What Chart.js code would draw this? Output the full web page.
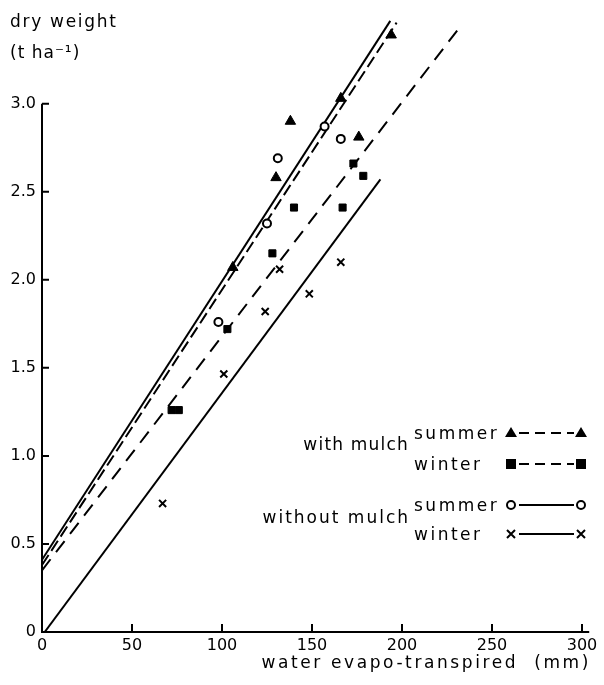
<!DOCTYPE html>
<html>
<head>
<meta charset="utf-8">
<script src="https://cdn.jsdelivr.net/npm/chart.js@4"></script>
<style>
html,body{margin:0;padding:0;background:#fff;}
#wrap{width:604px;height:685px;position:relative;}
</style>
</head>
<body>
<div id="wrap"><canvas id="c" width="604" height="685"></canvas></div>
<script>
// ---- data ----
const xTicks = [0, 50, 100, 150, 200, 250, 300];
const yTicks = [0, 0.5, 1.0, 1.5, 2.0, 2.5, 3.0];

const summerMulchX = [106, 130, 138, 166, 176, 194];
const summerMulchY = [2.07, 2.58, 2.90, 3.03, 2.81, 3.39];

const winterMulchX = [72, 76, 103, 128, 140, 167, 173, 178.5];
const winterMulchY = [1.26, 1.26, 1.72, 2.15, 2.41, 2.41, 2.66, 2.59];

const summerNoX = [98, 125, 131, 157, 166];
const summerNoY = [1.76, 2.32, 2.69, 2.87, 2.80];

const winterNoX = [67, 101, 124, 132, 148.5, 166];
const winterNoY = [0.73, 1.465, 1.82, 2.06, 1.92, 2.10];

// fitted lines: [start, end] as [x, y]
const summerMulchLine = [[0, 0.38], [197, 3.46]];
const winterMulchLine = [[0, 0.35], [231, 3.42]];
const summerNoLine = [[0, 0.41], [193.5, 3.47]];
const winterNoLine = [[1.5, 0], [188, 2.57]];

const FONT = '"DejaVu Sans", sans-serif';

function pts(xs, ys) { return xs.map((x, i) => ({x: x, y: ys[i]})); }
function seg(l) { return l.map(p => ({x: p[0], y: p[1]})); }

const lineBase = {type: 'line', showLine: true, pointRadius: 0, borderColor: '#000', borderWidth: 2, fill: false, order: 2};
const ptBase = {type: 'scatter', showLine: false, borderColor: '#000', order: 1};

const datasets = [
  Object.assign({}, lineBase, {label: 'l1', data: seg(summerNoLine)}),
  Object.assign({}, lineBase, {label: 'l2', data: seg(summerMulchLine), borderDash: [12, 5]}),
  Object.assign({}, lineBase, {label: 'l3', data: seg(winterMulchLine), borderDash: [14, 9]}),
  Object.assign({}, lineBase, {label: 'l4', data: seg(winterNoLine)}),
  Object.assign({}, ptBase, {label: 'summer mulch', data: pts(summerMulchX, summerMulchY), pointStyle: 'triangle', pointRadius: 6, backgroundColor: '#000', borderWidth: 1}),
  Object.assign({}, ptBase, {label: 'winter mulch', data: pts(winterMulchX, winterMulchY), pointStyle: 'rect', pointRadius: 5, backgroundColor: '#000', borderWidth: 1}),
  Object.assign({}, ptBase, {label: 'summer no', data: pts(summerNoX, summerNoY), pointStyle: 'circle', pointRadius: 4, backgroundColor: '#fff', borderWidth: 2}),
  Object.assign({}, ptBase, {label: 'winter no', data: pts(winterNoX, winterNoY), pointStyle: 'crossRot', pointRadius: 5, backgroundColor: '#000', borderWidth: 2})
];

function drawSym(ctx, type, x, y) {
  ctx.save();
  ctx.fillStyle = '#000'; ctx.strokeStyle = '#000'; ctx.setLineDash([]);
  if (type === 'tri') {
    ctx.beginPath(); ctx.moveTo(x, y - 6); ctx.lineTo(x + 6, y + 4); ctx.lineTo(x - 6, y + 4); ctx.closePath(); ctx.fill();
  } else if (type === 'sq') {
    ctx.fillRect(x - 5, y - 5, 10, 10);
  } else if (type === 'circ') {
    ctx.lineWidth = 2; ctx.beginPath(); ctx.arc(x, y, 4, 0, Math.PI * 2); ctx.fillStyle = '#fff'; ctx.fill(); ctx.stroke();
  } else if (type === 'x') {
    ctx.lineWidth = 2; ctx.beginPath();
    ctx.moveTo(x - 4, y - 4); ctx.lineTo(x + 4, y + 4); ctx.moveTo(x + 4, y - 4); ctx.lineTo(x - 4, y + 4); ctx.stroke();
  }
  ctx.restore();
}

const decor = {
  id: 'decor',
  afterDraw(chart) {
    const ctx = chart.ctx, xs = chart.scales.x, ys = chart.scales.y;
    const x0 = xs.getPixelForValue(0), y0 = ys.getPixelForValue(0);
    ctx.save();
    ctx.strokeStyle = '#000'; ctx.lineWidth = 2; ctx.setLineDash([]);
    // axes
    ctx.beginPath();
    ctx.moveTo(x0, ys.getPixelForValue(3.0)); ctx.lineTo(x0, y0); ctx.lineTo(xs.getPixelForValue(304), y0);
    ctx.stroke();
    ctx.beginPath();
    yTicks.forEach(v => { if (v > 0) { const p = ys.getPixelForValue(v); ctx.moveTo(x0, p); ctx.lineTo(x0 + 7, p); } });
    xTicks.forEach(v => { if (v > 0) { const p = xs.getPixelForValue(v); ctx.moveTo(p, y0); ctx.lineTo(p, y0 - 8); } });
    ctx.stroke();

    // axis titles
    ctx.fillStyle = '#000';
    ctx.textBaseline = 'alphabetic';
    ctx.font = '17px ' + FONT;
    ctx.letterSpacing = '1.7px';
    ctx.textAlign = 'left';
    ctx.fillText('dry weight', 10, 27);
    ctx.letterSpacing = '1px';
    ctx.fillText('(t ha\u207B\u00B9)', 10, 58);
    ctx.textAlign = 'right';
    ctx.font = '17px ' + FONT;
    ctx.letterSpacing = '2.6px';
    ctx.fillText('water evapo-transpired  (mm)', 591, 668);

    // legend
    ctx.font = '17px ' + FONT;
    ctx.letterSpacing = '1.2px';
    ctx.textAlign = 'right';
    ctx.fillText('with mulch', 409, 450);
    ctx.letterSpacing = '2px';
    ctx.fillText('without mulch', 410, 523);
    ctx.textAlign = 'left';
    ctx.letterSpacing = '2.5px';
    ctx.fillText('summer', 414, 439);
    ctx.fillText('winter', 414, 470);
    ctx.fillText('summer', 414, 511);
    ctx.fillText('winter', 414, 540);
    ctx.letterSpacing = '0px';
    const rows = [
      {y: 433, sym: 'tri', dash: [10, 6]},
      {y: 464, sym: 'sq', dash: [10, 6]},
      {y: 505, sym: 'circ', dash: []},
      {y: 534, sym: 'x', dash: []}
    ];
    rows.forEach(r => {
      ctx.lineWidth = 2; ctx.setLineDash(r.dash);
      ctx.beginPath(); ctx.moveTo(519, r.y); ctx.lineTo(574, r.y); ctx.stroke();
      drawSym(ctx, r.sym, 511, r.y);
      drawSym(ctx, r.sym, 581, r.y);
    });
    ctx.restore();
  }
};

new Chart(document.getElementById('c'), {
  type: 'scatter',
  data: {datasets: datasets},
  options: {
    responsive: false,
    animation: false,
    devicePixelRatio: 1,
    layout: {padding: {left: 0, right: 22, top: 2, bottom: 0}},
    plugins: {legend: {display: false}, tooltip: {enabled: false}},
    scales: {
      x: {
        type: 'linear', min: 0, max: 300,
        afterFit(s) { s.height = 53; },
        grid: {display: false, drawTicks: false},
        border: {display: false},
        afterBuildTicks(s) { s.ticks = xTicks.map(v => ({value: v})); },
        ticks: {color: '#000', font: {family: FONT, size: 16}, padding: 4, maxRotation: 0, autoSkip: false,
          callback: v => String(v)}
      },
      y: {
        type: 'linear', min: 0, max: 3.5,
        afterFit(s) { s.width = 42; },
        grid: {display: false, drawTicks: false},
        border: {display: false},
        afterBuildTicks(s) { s.ticks = yTicks.map(v => ({value: v})); },
        ticks: {color: '#000', font: {family: FONT, size: 16}, padding: 6, autoSkip: false,
          callback: v => v === 0 ? '0' : v.toFixed(1)}
      }
    }
  },
  plugins: [decor]
});
</script>
</body>
</html>
